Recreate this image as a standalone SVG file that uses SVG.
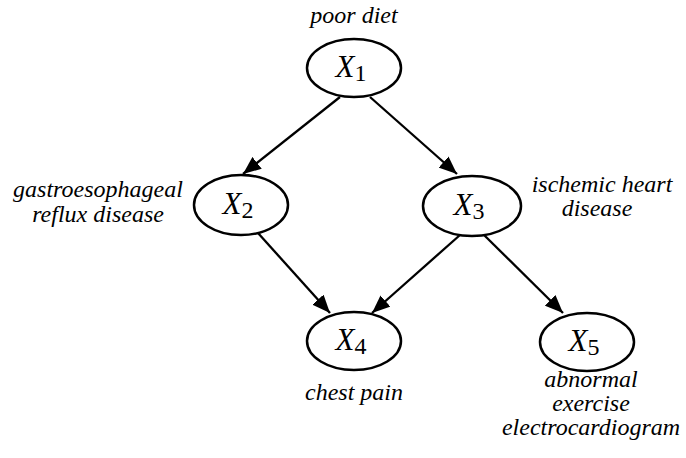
<svg xmlns="http://www.w3.org/2000/svg" width="686" height="458" viewBox="0 0 686 458">
<style>
.n{fill:#fff;stroke:#000;stroke-width:2.5}
.v{font-family:'Liberation Serif','Times New Roman',serif;font-style:italic;font-size:31px;fill:#000}
.s{font-style:normal;font-size:24px}
.l{font-family:'Liberation Serif','Times New Roman',serif;font-style:italic;font-size:24px;fill:#000}
.e{stroke:#000;stroke-width:2.3;fill:none;marker-end:url(#ah)}
</style>
<defs>
<marker id="ah" markerUnits="userSpaceOnUse" markerWidth="19" markerHeight="15" refX="18" refY="7.5" orient="auto">
<path d="M0,0 L18,7.5 L0,15 z" fill="#000"/>
</marker>
</defs>
<g id="edges">
<line class="e" x1="340" y1="97" x2="243" y2="174"/>
<line class="e" x1="370" y1="97" x2="457" y2="174"/>
<line class="e" x1="258" y1="233" x2="330" y2="313"/>
<line class="e" x1="460" y1="235" x2="372" y2="313"/>
<line class="e" x1="484" y1="235" x2="563" y2="313"/>
</g>
<g id="x1">
<ellipse class="n" cx="354" cy="68" rx="47" ry="29"/>
<text class="v" x="351" y="77" text-anchor="middle">X<tspan class="s" dy="4">1</tspan></text>
<text class="l" x="354" y="23" text-anchor="middle">poor diet</text>
</g>
<g id="x2">
<ellipse class="n" cx="241" cy="205" rx="47" ry="30"/>
<text class="v" x="238" y="214" text-anchor="middle">X<tspan class="s" dy="4">2</tspan></text>
<text class="l" x="98" y="197" text-anchor="middle">gastroesophageal</text>
<text class="l" x="98" y="222" text-anchor="middle">reflux disease</text>
</g>
<g id="x3">
<ellipse class="n" cx="472" cy="206" rx="49" ry="30"/>
<text class="v" x="469" y="215" text-anchor="middle">X<tspan class="s" dy="4">3</tspan></text>
<text class="l" x="602" y="192" text-anchor="middle">ischemic heart</text>
<text class="l" x="597" y="216" text-anchor="middle">disease</text>
</g>
<g id="x4">
<ellipse class="n" cx="354" cy="341" rx="47" ry="29"/>
<text class="v" x="351" y="350" text-anchor="middle">X<tspan class="s" dy="4">4</tspan></text>
<text class="l" x="354" y="400" text-anchor="middle">chest pain</text>
</g>
<g id="x5">
<ellipse class="n" cx="587" cy="342" rx="47" ry="29"/>
<text class="v" x="584" y="351" text-anchor="middle">X<tspan class="s" dy="4">5</tspan></text>
<text class="l" x="591" y="387" text-anchor="middle">abnormal</text>
<text class="l" x="591" y="411" text-anchor="middle">exercise</text>
<text class="l" x="591" y="435" text-anchor="middle">electrocardiogram</text>
</g>
</svg>
